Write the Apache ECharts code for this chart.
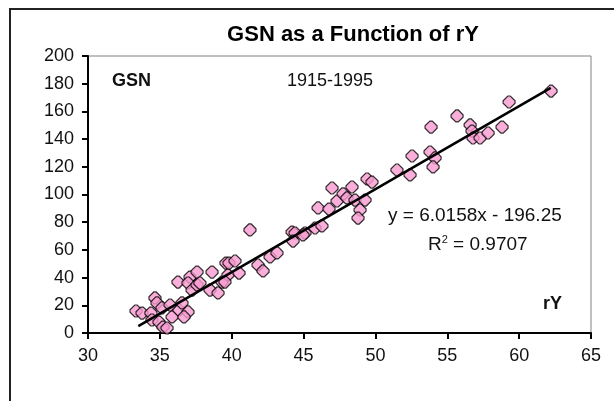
<!DOCTYPE html>
<html>
<head>
<meta charset="utf-8">
<script src="https://cdn.jsdelivr.net/npm/echarts@6/dist/echarts.min.js"></script>
<style>
  html, body { margin: 0; padding: 0; background: #fff; }
  #chart { width: 614px; height: 401px; }
</style>
</head>
<body>
<div id="chart"></div>
<script>
// rY values (x) and GSN values (y)
var rY = [33.34, 33.76, 34.38, 34.66, 34.80, 35.15, 34.45, 34.94, 35.22, 35.50,
          35.85, 36.33, 36.96, 36.68, 36.26, 37.10, 37.59, 36.96, 37.24, 37.59,
          37.79, 38.63, 38.49, 39.05, 39.33, 39.60, 39.74, 36.54, 35.71, 41.27,
          39.81, 40.23, 40.51, 39.53, 41.83, 42.18, 42.67, 43.15, 44.20, 44.41,
          45.10, 44.27, 44.96, 45.80, 46.28, 46.01, 46.77, 46.98, 47.33, 47.75,
          48.02, 48.37, 48.58, 48.93, 48.79, 49.28, 49.42, 49.76, 51.50, 52.41,
          52.55, 53.87, 53.80, 54.15, 54.01, 55.68, 56.59, 56.72, 56.79, 57.28,
          57.84, 58.81, 59.30, 62.22];
var gsn = [15.9, 14.4, 14.4, 25.3, 21.7, 18.1, 9.4, 7.9, 4.3, 3.6,
           11.6, 16.6, 15.2, 11.6, 36.8, 40.4, 44.0, 36.1, 31.0, 34.7,
           36.1, 44.0, 31.0, 28.9, 36.8, 50.5, 41.9, 21.7, 20.2, 74.4,
           50.5, 52.0, 43.3, 36.8, 49.1, 44.8, 54.9, 57.8, 72.9, 72.2,
           72.2, 66.4, 70.8, 75.8, 77.3, 90.3, 89.5, 104.7, 95.3, 100.4,
           97.5, 105.4, 96.0, 88.8, 83.0, 96.0, 111.2, 109.0, 117.7, 114.1,
           127.8, 148.7, 130.7, 126.4, 119.9, 156.7, 150.2, 145.8, 140.8, 140.8,
           144.4, 148.7, 166.8, 174.7];
// trend line end points as drawn
var trendX = [33.5, 62.2];
var trendY = [5, 177];

var xTicks = [30, 35, 40, 45, 50, 55, 60, 65];
var yTicks = [0, 20, 40, 60, 80, 100, 120, 140, 160, 180, 200];

var chart = echarts.init(document.getElementById('chart'));
var font = 'Liberation Sans, Arial, sans-serif';

var points = rY.map(function (x, i) { return [x, gsn[i]]; });
var trend = trendX.map(function (x, i) { return [x, trendY[i]]; });

chart.setOption({
    animation: false,
    backgroundColor: '#fff',
    grid: {
        left: 88, right: 23, top: 56, bottom: 68,
        show: true,
        borderColor: '#808080',
        borderWidth: 1
    },
    xAxis: {
        type: 'value',
        min: xTicks[0], max: xTicks[xTicks.length - 1], interval: 5,
        axisLine: { lineStyle: { color: '#000', width: 2 } },
        axisTick: { show: true, length: 6, lineStyle: { color: '#000', width: 2 } },
        axisLabel: { color: '#111', fontFamily: font, fontSize: 18, margin: 14 },
        splitLine: { show: false }
    },
    yAxis: {
        type: 'value',
        min: yTicks[0], max: yTicks[yTicks.length - 1], interval: 20,
        axisLine: { show: true, lineStyle: { color: '#000', width: 2 } },
        axisTick: { show: true, length: 6, lineStyle: { color: '#000', width: 2 } },
        axisLabel: { color: '#111', fontFamily: font, fontSize: 18, margin: 14 },
        splitLine: { show: false }
    },
    graphic: [
        {   // outer chart frame
            type: 'rect', silent: true,
            shape: { x: 10, y: 9, width: 1000, height: 1000 },
            style: { fill: 'none', stroke: '#222', lineWidth: 2 }
        },
        {
            type: 'text', x: 353, y: 35,
            style: {
                text: 'GSN as a Function of rY', fill: '#000',
                font: 'bold 22px ' + font, textAlign: 'center', textVerticalAlign: 'middle'
            }
        },
        {
            type: 'text', x: 112, y: 81,
            style: { text: 'GSN', fill: '#111', font: 'bold 18px ' + font, textVerticalAlign: 'middle' }
        },
        {
            type: 'text', x: 287, y: 81,
            style: { text: '1915-1995', fill: '#111', font: '18px ' + font, textVerticalAlign: 'middle' }
        },
        {
            type: 'text', x: 388, y: 216,
            style: { text: 'y = 6.0158x - 196.25', fill: '#111', font: '19px ' + font, textVerticalAlign: 'middle' }
        },
        {
            type: 'text', x: 428, y: 245,
            style: {
                text: 'R{sup|2} = 0.9707',
                fill: '#111', font: '19px ' + font, textVerticalAlign: 'middle',
                rich: { sup: { fontSize: 11, fontFamily: font, verticalAlign: 'top', padding: [0, 0, 10, 0] } }
            }
        },
        {
            type: 'text', x: 543, y: 304,
            style: { text: 'rY', fill: '#111', font: 'bold 18px ' + font, textVerticalAlign: 'middle' }
        }
    ],
    series: [
        {
            type: 'scatter',
            data: points,
            // diamond with clipped corners, like the original markers
            symbol: 'path://M4,0 L6,0 L10,4 L10,6 L6,10 L4,10 L0,6 L0,4 Z',
            symbolSize: 12,
            itemStyle: { color: '#f79bd0', borderColor: '#000', borderWidth: 1.2 },
            z: 2
        },
        {
            type: 'line',
            data: trend,
            symbol: 'none',
            lineStyle: { color: '#000', width: 2.5 },
            z: 3
        }
    ]
});
</script>
</body>
</html>
